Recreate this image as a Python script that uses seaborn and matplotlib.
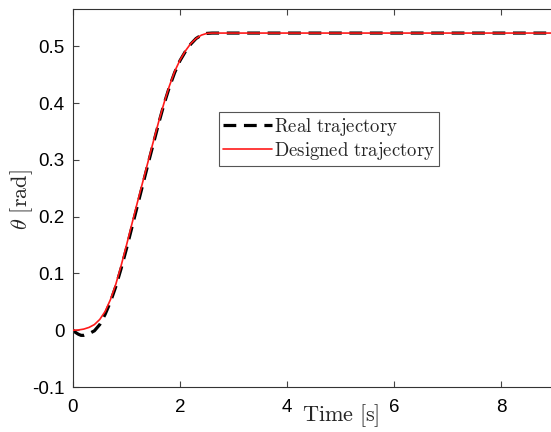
import numpy as np
import pandas as pd
import matplotlib
matplotlib.use("Agg")
import matplotlib.pyplot as plt
import seaborn as sns

# Designed (reference) trajectory: time [s] and angle [rad]
t_designed = [0.0, 0.1, 0.2, 0.3, 0.4, 0.5, 0.6, 0.7, 0.8, 0.9, 1.0, 1.1, 1.2, 1.3,
              1.4, 1.5, 1.6, 1.7, 1.8, 1.9, 2.0, 2.1, 2.2, 2.3, 2.4, 2.5, 2.6, 9.0]
theta_designed = [0.0, 0.0005, 0.002, 0.005, 0.010, 0.019, 0.033, 0.054, 0.081, 0.114,
                  0.150, 0.187, 0.224, 0.260, 0.296, 0.332, 0.367, 0.400, 0.430, 0.456,
                  0.476, 0.492, 0.505, 0.514, 0.520, 0.5230, 0.5236, 0.5236]

# Measured (real) trajectory
t_real = [0.0, 0.05, 0.1, 0.15, 0.2, 0.3, 0.4, 0.5, 0.6, 0.7, 0.8, 0.9, 1.0, 1.1, 1.2,
          1.3, 1.4, 1.5, 1.6, 1.7, 1.8, 1.9, 2.0, 2.1, 2.2, 2.3, 2.4, 2.5, 2.6, 9.0]
theta_real = [0.0, -0.004, -0.007, -0.009, -0.009, -0.006, -0.001, 0.010, 0.028, 0.050,
              0.077, 0.109, 0.144, 0.181, 0.218, 0.255, 0.292, 0.328, 0.364, 0.398,
              0.428, 0.454, 0.475, 0.491, 0.504, 0.514, 0.520, 0.5230, 0.5236, 0.5236]

x_ticks = [0, 2, 4, 6, 8]
y_ticks = [-0.1, 0, 0.1, 0.2, 0.3, 0.4, 0.5]
y_tick_labels = ["-0.1", "0", "0.1", "0.2", "0.3", "0.4", "0.5"]

sns.set_theme(style="ticks")
plt.rcParams["font.family"] = ["Liberation Sans", "DejaVu Sans"]
plt.rcParams["mathtext.fontset"] = "cm"

df_real = pd.DataFrame({"t": t_real, "theta": theta_real})
df_des = pd.DataFrame({"t": t_designed, "theta": theta_designed})

fig = plt.figure(figsize=(5.51, 4.32), dpi=100)
ax = fig.add_axes([73 / 551, 1 - 387 / 432, 481.5 / 551, 378 / 432])

sns.lineplot(data=df_real, x="t", y="theta", ax=ax, color="black", lw=2.3,
             label=r"$\mathrm{Real\ trajectory}$", zorder=2)
ax.lines[-1].set_dashes((4.0, 2.4))
sns.lineplot(data=df_des, x="t", y="theta", ax=ax, color="#ff1a1a", lw=1.2,
             label=r"$\mathrm{Designed\ trajectory}$", zorder=3)

ax.set_xlim(0, 9)
ax.set_ylim(-0.1, 0.566)
ax.set_xticks(x_ticks)
ax.set_yticks(y_ticks)
ax.set_yticklabels(y_tick_labels)
ax.tick_params(direction="in", length=4, width=0.8, color="#444444",
               labelsize=13.5, labelcolor="black", top=True, right=False)
ax.tick_params(axis="x", pad=9)
ax.tick_params(axis="y", pad=6)
for side in ["left", "bottom", "top"]:
    ax.spines[side].set_color("#333333")
    ax.spines[side].set_linewidth(0.8)
ax.spines["right"].set_visible(False)

ax.set_xlabel(r"$\mathrm{Time\ [s]}$", fontsize=16)
ax.xaxis.label.set_va("center")
ax.xaxis.set_label_coords(0.557, -0.077)
ax.set_ylabel(r"$\theta\ \mathrm{[rad]}$", fontsize=16)
ax.yaxis.label.set_va("center")
ax.yaxis.set_label_coords(-0.106, 0.495)

leg = ax.legend(loc="upper left", bbox_to_anchor=((219 - 73) / 481.5, (387 - 112) / 378),
                borderaxespad=0, fancybox=False, framealpha=1, edgecolor="#555555",
                fontsize=13.5, handlelength=2.6, handletextpad=0.15, borderpad=0.2,
                labelspacing=0.12)
leg.get_frame().set_linewidth(0.8)

fig.savefig("out.png", dpi=100, facecolor="white")
